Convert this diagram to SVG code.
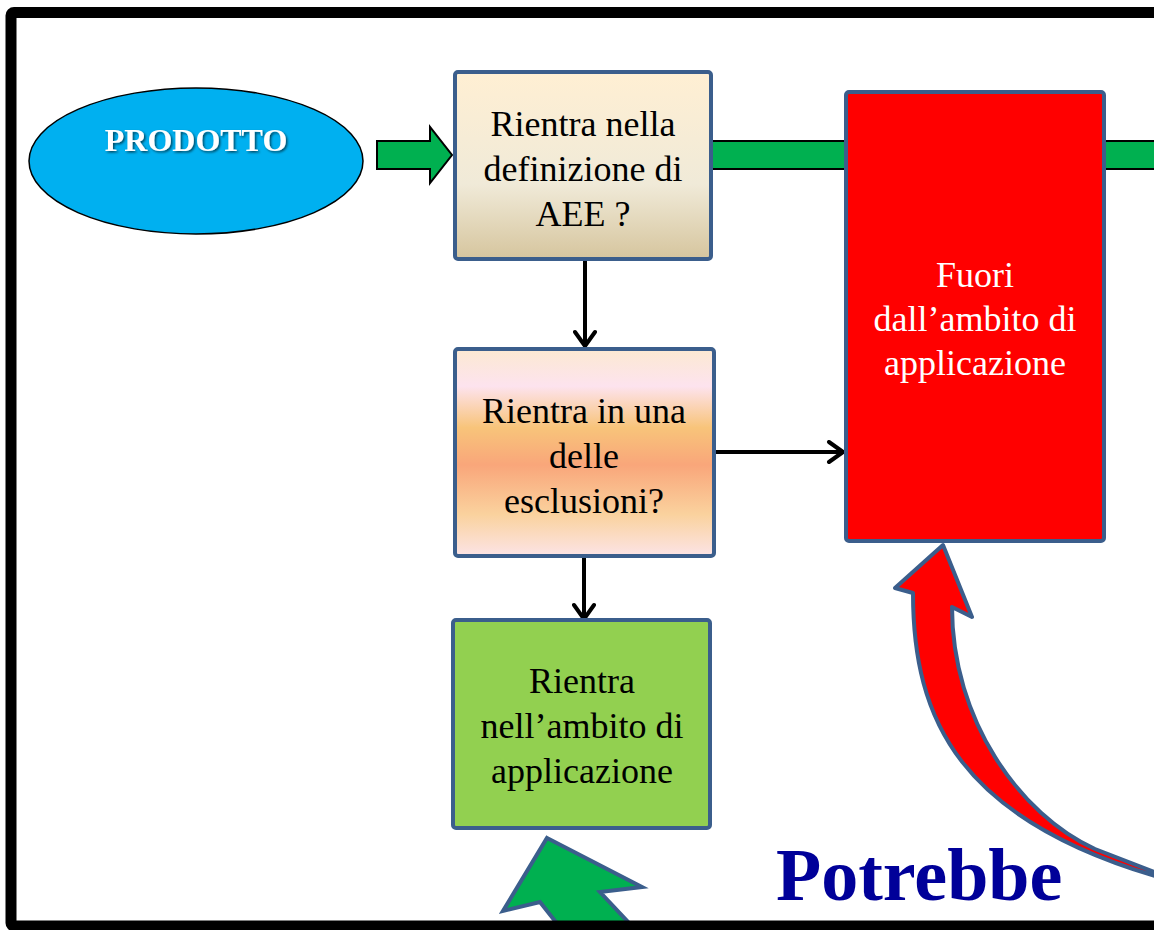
<svg xmlns="http://www.w3.org/2000/svg" width="1154" height="930" viewBox="0 0 1154 930">
<defs>
<linearGradient id="g1" x1="0" y1="0" x2="0" y2="1">
<stop offset="0" stop-color="#FFEFD3"/>
<stop offset="0.6" stop-color="#F0EAD8"/>
<stop offset="1" stop-color="#D6C59E"/>
</linearGradient>
<linearGradient id="g2" x1="0" y1="0" x2="0" y2="1">
<stop offset="0" stop-color="#FCE9D2"/>
<stop offset="0.18" stop-color="#FDE3EE"/>
<stop offset="0.38" stop-color="#F8C47A"/>
<stop offset="0.56" stop-color="#F9A67A"/>
<stop offset="0.8" stop-color="#FAD29E"/>
<stop offset="1" stop-color="#FCE4E6"/>
</linearGradient>
<marker id="ah" viewBox="0 0 20 24" refX="17" refY="12" markerWidth="20" markerHeight="24" markerUnits="userSpaceOnUse" orient="auto">
<path d="M3,2 L17,12 L3,22" fill="none" stroke="#000" stroke-width="4" stroke-linecap="round" stroke-linejoin="round"/>
</marker>
<filter id="sh" x="-10%" y="-10%" width="120%" height="140%">
<feDropShadow dx="1.5" dy="1.5" stdDeviation="0.8" flood-color="#000" flood-opacity="0.6"/>
</filter>
</defs>
<style>
.box{stroke:#3B5E8C;stroke-width:4}
.t{font-family:"Liberation Serif","Times New Roman",serif;font-size:36px;text-anchor:middle;fill:#000}
.w{fill:#fff}
.gr{fill:#00B050;stroke:#000;stroke-width:2}
.ln{fill:none;stroke:#000;stroke-width:4;marker-end:url(#ah)}
</style>
<rect x="0" y="0" width="1154" height="930" fill="#fff"/>

<g id="connectors">
<path class="gr" d="M377,141 H430 V127 L452,155 L430,183 V169 H377 Z"/>
<rect class="gr" x="711" y="141" width="460" height="28"/>
<line class="ln" x1="585" y1="259" x2="585" y2="346"/>
<line class="ln" x1="714" y1="452" x2="843" y2="452"/>
<line class="ln" x1="584" y1="557" x2="584" y2="619"/>
<path id="red-arrow" d="M943,545 L972,617 L952,607 C952,720 1020,815 1095,849 L1162,875 L1162,878 C960,820 913,720 913,593 L895,588 Z" fill="#FF0000" stroke="#3B5E8C" stroke-width="4" stroke-linejoin="round"/>
<path id="green-arrow" d="M547,838 L642,887 L600,892 L645,940 L570,940 L540,902 L503,911 Z" fill="#00B050" stroke="#3B5E8C" stroke-width="4"/>
</g>

<g id="prodotto">
<ellipse cx="196" cy="161" rx="167" ry="73" fill="#00B0F0" stroke="#000" stroke-width="1.5"/>
<text x="196" y="151" font-family="'Liberation Serif','Times New Roman',serif" font-weight="bold" font-size="32" text-anchor="middle" fill="#fff" filter="url(#sh)">PRODOTTO</text>
</g>

<g id="box-aee">
<rect class="box" x="455" y="72" width="256" height="187" rx="3" fill="url(#g1)"/>
<text class="t" x="583" y="136">Rientra nella</text>
<text class="t" x="583" y="181">definizione di</text>
<text class="t" x="583" y="226">AEE ?</text>
</g>

<g id="box-esclusioni">
<rect class="box" x="455" y="349" width="259" height="207" rx="3" fill="url(#g2)"/>
<text class="t" x="584" y="423">Rientra in una</text>
<text class="t" x="584" y="468">delle</text>
<text class="t" x="584" y="513">esclusioni?</text>
</g>

<g id="box-rientra">
<rect class="box" x="453" y="620" width="257" height="208" rx="3" fill="#92D050"/>
<text class="t" x="582" y="693">Rientra</text>
<text class="t" x="582" y="738">nell’ambito di</text>
<text class="t" x="582" y="783">applicazione</text>
</g>

<g id="box-fuori">
<rect class="box" x="846" y="92" width="258" height="449" rx="3" fill="#FF0000"/>
<text class="t w" x="975" y="287">Fuori</text>
<text class="t w" x="975" y="331">dall’ambito di</text>
<text class="t w" x="975" y="375">applicazione</text>
</g>

<text id="potrebbe" x="776" y="900" font-family="'Liberation Serif','Times New Roman',serif" font-weight="bold" font-size="74" fill="#000099">Potrebbe</text>

<rect id="frame" x="11" y="12.5" width="1200" height="913.5" rx="3" fill="none" stroke="#000" stroke-width="11"/>
</svg>
